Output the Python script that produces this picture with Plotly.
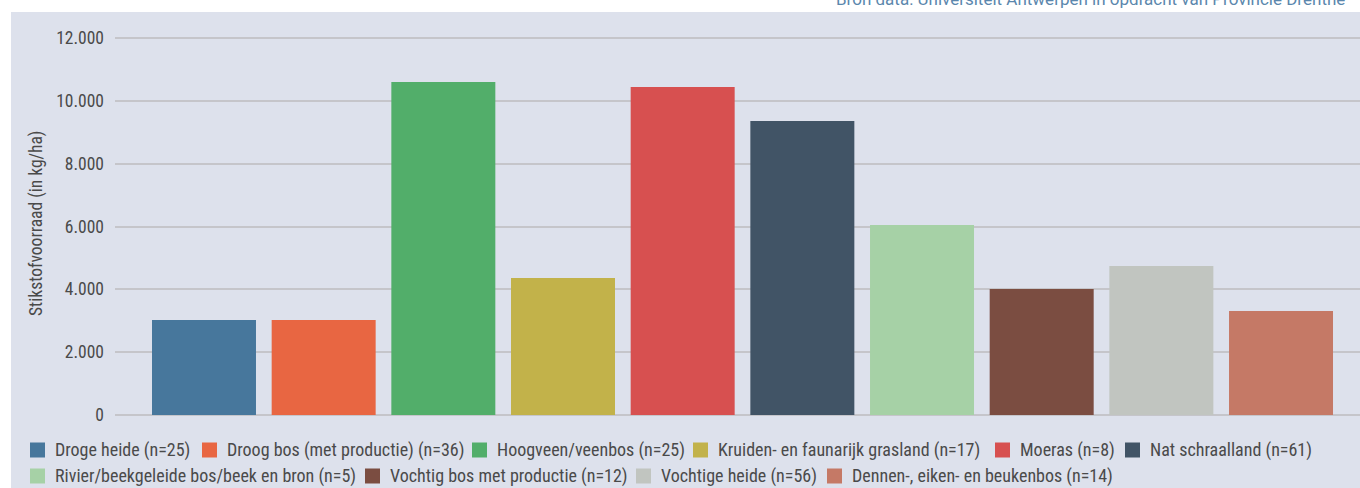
import plotly.graph_objects as go

# ---------------- data ----------------
categories = [
    "Droge heide (n=25)",
    "Droog bos (met productie) (n=36)",
    "Hoogveen/veenbos (n=25)",
    "Kruiden- en faunarijk grasland (n=17)",
    "Moeras (n=8)",
    "Nat schraalland (n=61)",
    "Rivier/beekgeleide bos/beek en bron (n=5)",
    "Vochtig bos met productie (n=12)",
    "Vochtige heide (n=56)",
    "Dennen-, eiken- en beukenbos (n=14)",
]
values = [3020, 3020, 10600, 4360, 10440, 9360, 6050, 4010, 4740, 3310]
colors = ["#47779c", "#e86642", "#52ae6a", "#c2b24a", "#d75050",
          "#415466", "#a6d1a6", "#7b4d41", "#c1c5c0", "#c57966"]
y_tickvals = [0, 2000, 4000, 6000, 8000, 10000, 12000]
y_title = "Stikstofvoorraad (in kg/ha)"
source_text = "Bron data: Universiteit Antwerpen in opdracht van Provincie Drenthe"

# ---------------- layout constants (pixels) ----------------
W, H = 1360, 488
ML, MR, MT, MB = 115, 0, 30, 73
PW, PH = W - ML - MR, H - MT - MB
PANEL = "#dde1ec"
GRID = "#c5c5ca"
TXT = "#4a4a4a"
FONT = "Roboto Condensed, Liberation Sans Narrow, Arial Narrow, sans-serif"


def px_x(p):
    return (p - ML) / PW


def px_y(p):
    return (H - MB - p) / PH


fig = go.Figure()
for i, (cat, val, col) in enumerate(zip(categories, values, colors)):
    fig.add_trace(go.Bar(x=[i], y=[val], name=cat, marker=dict(color=col, line_width=0),
                         showlegend=False, hovertemplate=cat + ": %{y}<extra></extra>"))

shapes = [dict(type="rect", xref="paper", yref="paper", layer="below",
               x0=px_x(11), x1=px_x(W + 5), y0=px_y(H + 5), y1=px_y(12),
               fillcolor=PANEL, line_width=0)]
annotations = [
    dict(text=y_title, xref="paper", yref="paper", x=px_x(36), y=px_y(223), textangle=-90,
         showarrow=False, xanchor="center", yanchor="middle",
         font=dict(family=FONT, size=17.5, color=TXT)),
    dict(text=source_text, xref="paper", yref="paper", x=px_x(834), y=px_y(11),
         showarrow=False, xanchor="left", yanchor="bottom",
         font=dict(family="Roboto, sans-serif", size=17, color="#5b87ad")),
]

# manual legend (two rows like the original)
legend_rows = [[0, 1, 2, 3, 4, 5], [6, 7, 8, 9]]
legend_x = [[30, 202, 472, 693, 995, 1125], [30, 365, 636, 827]]
legend_y = [450, 476]
SW = 15
for row, xs, yc in zip(legend_rows, legend_x, legend_y):
    for idx, x0 in zip(row, xs):
        shapes.append(dict(type="rect", xref="paper", yref="paper",
                           x0=px_x(x0), x1=px_x(x0 + SW),
                           y0=px_y(yc + SW / 2), y1=px_y(yc - SW / 2),
                           fillcolor=colors[idx], line_width=0))
        annotations.append(dict(text=categories[idx], xref="paper", yref="paper",
                                x=px_x(x0 + SW + 8), y=px_y(yc), showarrow=False,
                                xanchor="left", yanchor="middle",
                                font=dict(family=FONT, size=18, color=TXT)))

fig.update_layout(
    width=W, height=H,
    margin=dict(l=ML, r=MR, t=MT, b=MB, pad=0),
    paper_bgcolor="white",
    plot_bgcolor=PANEL,
    separators=",.",
    bargap=0.131,
    showlegend=False,
    xaxis=dict(range=[-0.7437, 9.66], showticklabels=False, showgrid=False,
               zeroline=False, showline=False, ticks=""),
    yaxis=dict(range=[0, 12255], tickvals=y_tickvals, tickformat=",d",
               showgrid=True, gridcolor=GRID, gridwidth=2,
               zeroline=True, zerolinecolor=GRID, zerolinewidth=2,
               showline=False, ticks="", ticklabelstandoff=10,
               tickfont=dict(family=FONT, size=17.5, color=TXT)),
    shapes=shapes,
    annotations=annotations,
)

fig.write_html(
    "out.html",
    config={"displayModeBar": False},
    post_script="document.body.style.margin='0';document.body.style.overflow='hidden';",
)
